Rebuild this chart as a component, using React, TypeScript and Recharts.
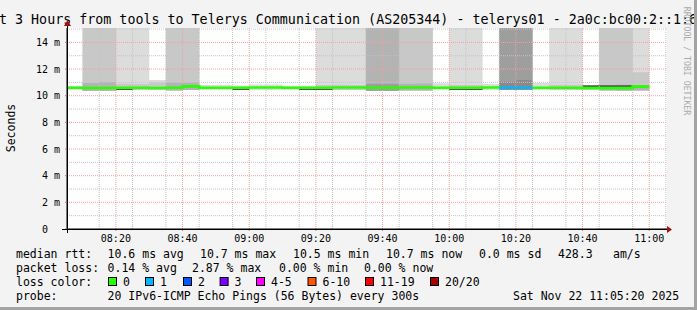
import { ComposedChart, Area, Line, XAxis, YAxis, CartesianGrid } from 'recharts';

// 5-minute polling slots (last entry closes the final step)
const slotTimes = [
  '08:05', '08:10', '08:15', '08:20', '08:25', '08:30', '08:35', '08:40', '08:45',
  '08:50', '08:55', '09:00', '09:05', '09:10', '09:15', '09:20', '09:25', '09:30',
  '09:35', '09:40', '09:45', '09:50', '09:55', '10:00', '10:05', '10:10', '10:15',
  '10:20', '10:25', '10:30', '10:35', '10:40', '10:45', '10:50', '10:55', '11:00',
];

const medianMs = [
  10.6, 10.58, 10.58, 10.6, 10.6, 10.58, 10.6, 10.7, 10.6, 10.6, 10.6, 10.62,
  10.62, 10.6, 10.6, 10.6, 10.62, 10.62, 10.6, 10.6, 10.62, 10.62, 10.6, 10.6,
  10.6, 10.62, 10.6, 10.6, 10.6, 10.6, 10.6, 10.57, 10.57, 10.57, 10.68,
];

const lostPings = [
  0, 0, 0, 0, 0, 0, 0, 0, 0, 0, 0, 0, 0, 0, 0, 0, 0, 0,
  0, 0, 0, 0, 0, 0, 0, 0, 1, 1, 0, 0, 0, 0, 0, 0, 0,
];

// smoke: lowest ping and the top of each nested band (0 = band not present)
const smokeLowMs = [
  10.45, 10.35, 10.35, 10.42, 10.42, 10.42, 10.4, 10.42, 10.43, 10.43, 10.42, 10.43,
  10.43, 10.43, 10.42, 10.42, 10.42, 10.42, 10.38, 10.37, 10.4, 10.4, 10.43, 10.42,
  10.42, 10.43, 10.45, 10.45, 10.43, 10.42, 10.42, 10.42, 10.4, 10.37, 10.4,
];
const smoke1Ms = [
  10.72, 18, 18, 18, 18, 11.18, 18, 18, 10.8, 10.82, 10.75, 10.85,
  10.85, 10.72, 10.75, 18, 18, 18, 18, 18, 18, 18, 10.93, 18,
  18, 10.88, 18, 18, 10.96, 18, 18, 10.8, 18, 18, 18,
];
const smoke2Ms = [
  0, 18, 18, 10.9, 10.88, 11.0, 18, 18, 0, 0, 0, 0,
  0, 0, 0, 10.8, 10.82, 10.8, 18, 18, 18, 18, 0, 10.8,
  10.8, 0, 18, 18, 0, 10.82, 10.82, 0, 18, 18, 11.76,
];
const smoke3Ms = [
  0, 10.95, 11.02, 0, 0, 0, 11.0, 11.0, 0, 0, 0, 0,
  0, 0, 0, 0, 0, 0, 18, 18, 10.9, 10.92, 0, 0,
  0, 0, 18, 18, 0, 0, 0, 0, 10.8, 10.85, 10.8,
];
const smoke4Ms = [
  0, 0, 0, 0, 0, 0, 0, 0, 0, 0, 0, 0,
  0, 0, 0, 0, 0, 0, 10.9, 10.9, 0, 0, 0, 0,
  0, 0, 18, 18, 0, 0, 0, 0, 0, 0, 0,
];
const smoke5Ms = [
  0, 0, 0, 0, 0, 0, 0, 0, 0, 0, 0, 0,
  0, 0, 0, 0, 0, 0, 0, 0, 0, 0, 0, 0,
  0, 0, 11.05, 11.18, 0, 0, 0, 0, 0, 0, 0,
];
// densest pings hugging the median (0 = none visible)
const coreLowMs = [
  0, 0, 0, 10.42, 0, 0, 0, 0, 0, 0, 10.42, 0,
  0, 0, 10.42, 10.42, 0, 0, 0, 0, 0, 0, 0, 10.42,
  10.42, 0, 0, 0, 0, 0, 0, 10.57, 10.57, 10.57, 0,
];
const coreHighMs = [
  0, 0, 0, 10.6, 0, 0, 0, 0, 0, 0, 10.6, 0,
  0, 0, 10.6, 10.6, 0, 0, 0, 0, 0, 0, 0, 10.6,
  10.6, 0, 0, 0, 0, 0, 0, 10.78, 10.78, 10.78, 0,
];

const windowStart = '08:05:20';
const windowEnd = '11:05:20';
const xTickLabels = ['08:20', '08:40', '09:00', '09:20', '09:40', '10:00', '10:20', '10:40', '11:00'];
const yTickValues = [0, 2, 4, 6, 8, 10, 12, 14];
const yTickLabels = ['0  ', '2 m', '4 m', '6 m', '8 m', '10 m', '12 m', '14 m'];
const yMaxMs = 15.08;

const rttStats = ['10.6 ms avg', '10.7 ms max', '10.5 ms min', '10.7 ms now', '0.0 ms sd', '428.3', 'am/s'];
const lossStats = ['0.14 % avg', '2.87 % max', '0.00 % min', '0.00 % now'];
const lossLabels = ['0', '1', '2', '3', '4-5', '6-10', '11-19', '20/20'];
const lossColors = ['#26ff00', '#00b8ff', '#0059ff', '#7e00ff', '#ff00ff', '#ff5500', '#ff0000', '#a10000'];

const toMin = (s: string) => {
  const [h, m, sec = 0] = s.split(':').map(Number);
  return h * 60 + m + sec / 60;
};

const rows = slotTimes.map((t, i) => {
  const k = Math.min(i, medianMs.length - 1);
  const low = smokeLowMs[k];
  const band = (v: number) => [low, Math.max(low, v)];
  const med = medianMs[k];
  const prevLoss = i > 0 ? lostPings[i - 1] : -1;
  return {
    t: toMin(t),
    s1: band(smoke1Ms[k]),
    s2: band(smoke2Ms[k]),
    s3: band(smoke3Ms[k]),
    s4: band(smoke4Ms[k]),
    s5: band(smoke5Ms[k]),
    core: coreLowMs[k] ? [coreLowMs[k], coreHighMs[k]] : [med, med],
    ok: lostPings[k] === 0 || prevLoss === 0 ? med : null,
    loss1: lostPings[k] === 1 || prevLoss === 1 ? med : null,
  };
});

const xTicks = xTickLabels.map(toMin);
const minorX: number[] = [];
for (let m = 490; m <= 665; m += 5) minorX.push(m);
const minorY: number[] = [];
for (let v = 0.5; v <= 15; v += 0.5) minorY.push(v);

const smokeShades = ['#dcdcdc', '#c8c8c8', '#b3b3b3', '#9e9e9e', '#8a8a8a'];
const mono = '"DejaVu Sans Mono", monospace';

const YTick = (props: any) => {
  const { x, y, payload } = props;
  const idx = yTickValues.indexOf(payload.value);
  return (
    <text x={x} y={y} dy={3.5} textAnchor="end" fontFamily={mono} fontSize={10} fill="#000" style={{ whiteSpace: 'pre' }}>
      {yTickLabels[idx]}
    </text>
  );
};

const XTick = (props: any) => {
  const { x, y, payload } = props;
  const idx = xTicks.indexOf(payload.value);
  return (
    <text x={x} y={y} dy={8} textAnchor="middle" fontFamily={mono} fontSize={10} fill="#000">
      {xTickLabels[idx]}
    </text>
  );
};

export default function App() {
  const rttX = [107.6, 200, 293, 386, 479, 558, 613];
  const lossX = [107.6, 192, 279, 364];
  const boxX = [108, 145, 183, 219.6, 256, 307.5, 365, 430];

  return (
    <div
      style={{
        position: 'absolute',
        left: 0,
        top: 0,
        width: 697,
        height: 310,
        background: '#f3f3f3',
        boxSizing: 'border-box',
        borderRight: '3px solid #a3a3a3',
        borderBottom: '3px solid #a3a3a3',
        overflow: 'hidden',
      }}
    >
      <div style={{ position: 'absolute', left: 67, top: 28, width: 600, height: 201, background: '#fff' }} />
      <div style={{ position: 'absolute', left: 0, top: 0 }}>
        <ComposedChart width={697} height={310} data={rows} margin={{ top: 28, right: 30, bottom: 61, left: 0 }}>
          <XAxis
            dataKey="t"
            type="number"
            domain={[toMin(windowStart), toMin(windowEnd)]}
            allowDataOverflow
            ticks={xTicks}
            tick={<XTick />}
            tickSize={2}
            tickMargin={3}
            tickLine={{ stroke: '#e08080' }}
            axisLine={{ stroke: '#000' }}
            height={20}
          />
          <YAxis
            type="number"
            domain={[0, yMaxMs]}
            allowDataOverflow
            ticks={yTickValues}
            tick={<YTick />}
            tickSize={2}
            tickMargin={5}
            tickLine={{ stroke: '#888' }}
            axisLine={{ stroke: '#000' }}
            width={67}
          />
          {['s1', 's2', 's3', 's4', 's5'].map((key, i) => (
            <Area
              key={key}
              dataKey={key}
              type="stepAfter"
              fill={smokeShades[i]}
              fillOpacity={1}
              stroke="none"
              dot={false}
              activeDot={false}
              isAnimationActive={false}
            />
          ))}
          <Area
            dataKey="core"
            type="stepAfter"
            fill="#555"
            fillOpacity={1}
            stroke="none"
            dot={false}
            activeDot={false}
            isAnimationActive={false}
          />
          <CartesianGrid
            verticalValues={minorX}
            horizontalValues={minorY}
            stroke="#c4c4c4"
            strokeDasharray="1 1"
            zIndex={150}
          />
          <CartesianGrid
            verticalValues={xTicks}
            horizontalValues={yTickValues.slice(1)}
            stroke="#f2a0a0"
            strokeDasharray="1 1"
            zIndex={160}
          />
          <Line
            dataKey="ok"
            type="stepAfter"
            stroke={lossColors[0]}
            strokeWidth={2.6}
            dot={false}
            activeDot={false}
            isAnimationActive={false}
          />
          <Line
            dataKey="loss1"
            type="stepAfter"
            stroke={lossColors[1]}
            strokeWidth={2.6}
            dot={false}
            activeDot={false}
            isAnimationActive={false}
          />
        </ComposedChart>
      </div>
      <svg width={697} height={310} style={{ position: 'absolute', left: 0, top: 0, pointerEvents: 'none' }}>
        <g fontFamily={mono} fill="#000">
          <text x={-1} y={23.5} fontSize={13.33} style={{ whiteSpace: 'pre' }}>
            t 3 Hours from tools to Telerys Communication (AS205344) - telerys01 - 2a0c:bc00:2::1:6
          </text>
          <text x={0} y={0} fontSize={11.5} textAnchor="middle" transform="translate(15 128) rotate(-90)">
            Seconds
          </text>
          <text x={0} y={0} fontSize={8.2} fill="#aaa" textAnchor="middle" transform="translate(683.5 61) rotate(90)" style={{ whiteSpace: 'pre' }}>
            RRDTOOL / TOBI OETIKER
          </text>
          <g fontSize={11.5} style={{ whiteSpace: 'pre' }}>
            <text x={16} y={258}>median rtt:</text>
            {rttStats.map((s, i) => (
              <text key={s + i} x={rttX[i]} y={258}>{s}</text>
            ))}
            <text x={16} y={272}>packet loss:</text>
            {lossStats.map((s, i) => (
              <text key={s + i} x={lossX[i]} y={272}>{s}</text>
            ))}
            <text x={16} y={286}>loss color:</text>
            {lossLabels.map((s, i) => (
              <g key={s}>
                <rect x={boxX[i] + 0.5} y={277.5} width={8} height={8} fill={lossColors[i]} stroke="#000" strokeWidth={1} />
                <text x={boxX[i] + 15} y={286}>{s}</text>
              </g>
            ))}
            <text x={16} y={300}>probe:</text>
            <text x={107.6} y={300}>20 IPv6-ICMP Echo Pings (56 Bytes) every 300s</text>
            <text x={513} y={300}>Sat Nov 22 11:05:20 2025</text>
          </g>
        </g>
        <line x1={62} y1={229.5} x2={667} y2={229.5} stroke="#000" />
        <line x1={67.5} y1={233} x2={67.5} y2={26} stroke="#000" />
        <polygon points="667,226 672,229.5 667,233" fill="#a01010" />
        <polygon points="64,26 67.5,20 71,26" fill="#a01010" />
      </svg>
    </div>
  );
}
